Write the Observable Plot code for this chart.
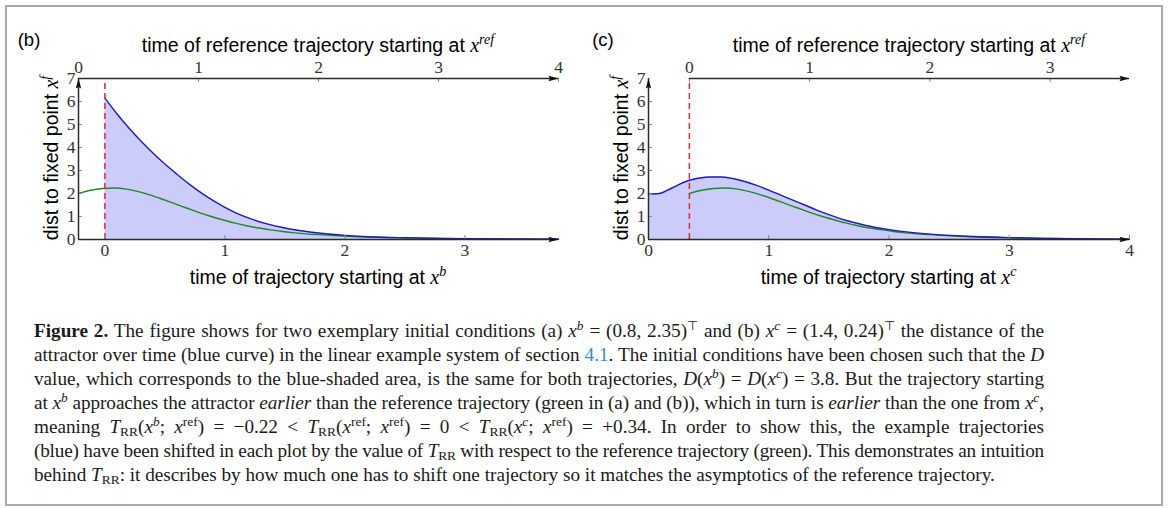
<!DOCTYPE html>
<html>
<head>
<meta charset="utf-8">
<script src="https://cdn.jsdelivr.net/npm/d3@7"></script>
<script src="https://cdn.jsdelivr.net/npm/@observablehq/plot@0.6"></script>
<style>
  html, body { margin: 0; padding: 0; background: #fff; }
  #fig { position: relative; width: 1168px; height: 508px; overflow: hidden; background: #fff; }
  #frame { position: absolute; left: 5px; top: 5px; width: 1158px; height: 501px; box-sizing: border-box; border: 2px solid #a9a9a9; pointer-events: none; }
  #pb { position: absolute; left: 0; top: 0; }
  #pc { position: absolute; left: 580px; top: 0; }
  #cap { position: absolute; left: 34px; top: 319px; width: 1010px; font-family: "Liberation Serif", "Times New Roman", serif; font-size: 19.2px; line-height: 24px; color: #1a1a1a; }
  #cap .j, #cap .l { height: 24px; overflow: visible; }
  #cap .j { text-align: justify; text-align-last: justify; white-space: nowrap; }
  #cap .l { text-align: left; white-space: nowrap; }
  #cap sup, #cap sub { font-size: 0.7em; vertical-align: baseline; position: relative; line-height: 0; }
  #cap sup { top: -0.5em; }
  #cap sub { top: 0.25em; }
  #cap .lnk { color: #2f8fce; }
</style>
</head>
<body>
<div id="fig">
  <div id="pb"></div>
  <div id="pc"></div>
  <div id="cap">
    <div class="j"><b>Figure 2.</b> The figure shows for two exemplary initial conditions (a) <i>x</i><sup><i>b</i></sup> = (0.8, 2.35)<sup>⊤</sup> and (b) <i>x</i><sup><i>c</i></sup> = (1.4, 0.24)<sup>⊤</sup> the distance of the</div>
    <div class="j">attractor over time (blue curve) in the linear example system of section <span class="lnk">4.1</span>. The initial conditions have been chosen such that the <i>D</i></div>
    <div class="j">value, which corresponds to the blue-shaded area, is the same for both trajectories, <i>D</i>(<i>x</i><sup><i>b</i></sup>) = <i>D</i>(<i>x</i><sup><i>c</i></sup>) = 3.8. But the trajectory starting</div>
    <div class="j">at <i>x</i><sup><i>b</i></sup> approaches the attractor <i>earlier</i> than the reference trajectory (green in (a) and (b)), which in turn is <i>earlier</i> than the one from <i>x</i><sup><i>c</i></sup>,</div>
    <div class="j">meaning <i>T</i><sub>RR</sub>(<i>x</i><sup><i>b</i></sup>; <i>x</i><sup>ref</sup>) = −0.22 &lt; <i>T</i><sub>RR</sub>(<i>x</i><sup>ref</sup>; <i>x</i><sup>ref</sup>) = 0 &lt; <i>T</i><sub>RR</sub>(<i>x</i><sup><i>c</i></sup>; <i>x</i><sup>ref</sup>) = +0.34. In order to show this, the example trajectories</div>
    <div class="j">(blue) have been shifted in each plot by the value of <i>T</i><sub>RR</sub> with respect to the reference trajectory (green). This demonstrates an intuition</div>
    <div class="l">behind <i>T</i><sub>RR</sub>: it describes by how much one has to shift one trajectory so it matches the asymptotics of the reference trajectory.</div>
  </div>
  <div id="frame"></div>
</div>
<script>
// ---------------- data ----------------
const T_RR_b = -0.22;   // shift of trajectory x^b relative to reference
const T_RR_c = 0.34;    // shift of trajectory x^c relative to reference
const yTicks = [0, 1, 2, 3, 4, 5, 6, 7];
const bBottomTicks = [0, 1, 2, 3];
const cBottomTicks = [0, 1, 2, 3, 4];
const bTopTicks = [0, 1, 2, 3, 4];
const cTopTicks = [0, 1, 2, 3];

// reference trajectory (green), time of reference trajectory
const refTime = [0, 0.1, 0.2, 0.3, 0.4, 0.5, 0.6, 0.7, 0.8, 0.9, 1.0, 1.1, 1.2, 1.3, 1.4, 1.5, 1.6, 1.7, 1.8, 2.0, 2.2, 2.4, 2.6, 2.8, 3.0, 3.3, 3.66, 4.0];
const refDist = [2.0, 2.14, 2.22, 2.24, 2.19, 2.08, 1.93, 1.75, 1.56, 1.37, 1.18, 1.01, 0.86, 0.72, 0.6, 0.5, 0.42, 0.35, 0.29, 0.21, 0.15, 0.11, 0.08, 0.058, 0.043, 0.028, 0.017, 0.01];

// trajectory from x^b (blue, panel b)
const bTime = [0, 0.1, 0.2, 0.3, 0.4, 0.5, 0.6, 0.7, 0.8, 0.9, 1.0, 1.1, 1.2, 1.35, 1.5, 1.65, 1.8, 2.0, 2.2, 2.5, 2.8, 3.1, 3.4, 3.78];
const bDist = [6.15, 5.47, 4.85, 4.28, 3.76, 3.28, 2.84, 2.42, 2.04, 1.7, 1.4, 1.14, 0.93, 0.68, 0.5, 0.37, 0.27, 0.18, 0.12, 0.075, 0.047, 0.03, 0.02, 0.012];

// trajectory from x^c (blue, panel c)
const cTime = [0, 0.05, 0.1, 0.2, 0.3, 0.4, 0.5, 0.6, 0.7, 0.8, 0.9, 1.0, 1.1, 1.2, 1.3, 1.4, 1.5, 1.6, 1.7, 1.8, 2.0, 2.2, 2.4, 2.7, 3.0, 3.3, 3.6, 4.0];
const cDist = [2.0, 1.98, 2.01, 2.25, 2.5, 2.65, 2.72, 2.72, 2.65, 2.52, 2.35, 2.15, 1.93, 1.71, 1.5, 1.28, 1.08, 0.9, 0.75, 0.62, 0.43, 0.3, 0.21, 0.13, 0.08, 0.05, 0.032, 0.018];

// ---------------- style ----------------
const FILL = "#ccccfa";
const BLUE = "#1c1cc0";
const GREEN = "#22862a";
const RED = "#e8262b";
const AX = "#2b2b2b";
const TICK = "#8a8a8a";

const arrowSym = {
  draw(ctx) {
    ctx.moveTo(0, 0);
    ctx.lineTo(2.7, 10);
    ctx.lineTo(0, 8.6);
    ctx.lineTo(-2.7, 10);
    ctx.closePath();
  }
};

function panel(cfg) {
  const {xmin, xmax, shift, redAt, blueT, blueV, bottomTicks, topTicks, width, marginLeft, marginRight} = cfg;
  const blue = blueT.map((t, i) => ({t, v: blueV[i]}));
  const ref = refTime.map((tau, i) => ({t: tau + shift, v: refDist[i]})).filter(d => d.t <= xmax + 1e-9);
  const topPos = topTicks.map(tau => tau + shift);
  const heads = [
    {x: xmax, y: 0, rot: 90},
    {x: xmax, y: 7, rot: 90},
    {x: xmin, y: 7, rot: 0}
  ];
  return Plot.plot({
    width, height: 300,
    marginLeft, marginRight, marginTop: 78, marginBottom: 61,
    x: {domain: [xmin, xmax]},
    y: {domain: [0, 7]},
    style: {fontFamily: "'Liberation Serif', serif", fontSize: "17.5px", color: "#333", background: "transparent", overflow: "visible"},
    marks: [
      Plot.areaY(blue, {x: "t", y: "v", fill: FILL, curve: "monotone-x"}),
      Plot.line(ref, {x: "t", y: "v", stroke: GREEN, strokeWidth: 1.4, curve: "monotone-x"}),
      Plot.line(blue, {x: "t", y: "v", stroke: BLUE, strokeWidth: 1.4, curve: "monotone-x"}),
      Plot.ruleX([redAt], {y1: 0, y2: 7, stroke: RED, strokeWidth: 1.5, strokeDasharray: "6,4"}),
      // inward ticks
      Plot.ruleX(bottomTicks, {x: d => d, y1: 0, y2: 0, insetTop: -4, stroke: TICK, strokeWidth: 1}),
      Plot.ruleX(topPos, {x: d => d, y1: 7, y2: 7, insetBottom: -4, stroke: TICK, strokeWidth: 1}),
      Plot.ruleY(yTicks.slice(1, 7), {y: d => d, x1: xmin, x2: xmin, insetRight: -4, stroke: TICK, strokeWidth: 1}),
      // axis lines
      Plot.ruleY([0], {x1: xmin, x2: xmax, stroke: AX, strokeWidth: 1.5}),
      Plot.ruleY([7], {x1: shift, x2: xmax, stroke: AX, strokeWidth: 1.5}),
      Plot.ruleX([xmin], {y1: 0, y2: 7, stroke: AX, strokeWidth: 1.5}),
      Plot.dot(heads, {x: "x", y: "y", rotate: "rot", symbol: arrowSym, fill: "#111", r: 5}),
      // tick labels
      Plot.axisX({anchor: "bottom", ticks: bottomTicks, tickSize: 0, tickPadding: 4, label: null, tickFormat: d => String(d)}),
      Plot.axisX({anchor: "top", ticks: topPos, tickSize: 0, tickPadding: 6, label: null, tickFormat: d => String(Math.round(d - shift))}),
      Plot.axisY({ticks: yTicks, tickSize: 0, tickPadding: 3, label: null, tickFormat: d => String(d)})
    ]
  });
}

function addLabels(svg, cfg) {
  const {letter, letterX, topCx, botCx, sup, yAxisX} = cfg;
  const s = d3.select(svg);
  const g = s.append("g")
    .attr("font-family", "'Liberation Sans', Arial, sans-serif")
    .attr("font-size", 19.5)
    .attr("fill", "#000");
  g.append("text").attr("x", letterX).attr("y", 46).attr("font-size", 18.5).text(letter);

  const mathX = (t, sz) => t.append("tspan").attr("font-family", "'Liberation Serif', serif").attr("font-style", "italic").attr("font-size", sz || 20).text("x");
  const mathSup = (t, txt) => t.append("tspan").attr("font-family", "'Liberation Serif', serif").attr("font-style", "italic").attr("font-size", 14).attr("dy", -8).text(txt);

  const top = g.append("text").attr("x", topCx).attr("y", 52).attr("text-anchor", "middle");
  top.append("tspan").text("time of reference trajectory starting at ");
  mathX(top); mathSup(top, "ref");

  const bot = g.append("text").attr("x", botCx).attr("y", 284).attr("text-anchor", "middle");
  bot.append("tspan").text("time of trajectory starting at ");
  mathX(bot); mathSup(bot, sup);

  const yl = g.append("text").attr("transform", `translate(${yAxisX - 20},158) rotate(-90)`).attr("text-anchor", "middle");
  yl.append("tspan").text("dist to fixed point ");
  mathX(yl); mathSup(yl, "f");
}

// panel (b)
const svgB = panel({
  xmin: T_RR_b, xmax: T_RR_b + 4, shift: T_RR_b, redAt: 0,
  blueT: bTime, blueV: bDist, bottomTicks: bBottomTicks, topTicks: bTopTicks,
  width: 580, marginLeft: 78, marginRight: 22
});
document.getElementById("pb").appendChild(svgB);
{
  const x = svgB.scale("x");
  addLabels(svgB, {letter: "(b)", letterX: 29, topCx: (x.apply(T_RR_b) + x.apply(T_RR_b + 4)) / 2,
    botCx: (x.apply(T_RR_b) + x.apply(T_RR_b + 4)) / 2, sup: "b", yAxisX: x.apply(T_RR_b)});
}

// panel (c)
const svgC = panel({
  xmin: 0, xmax: 4, shift: T_RR_c, redAt: T_RR_c,
  blueT: cTime, blueV: cDist, bottomTicks: cBottomTicks, topTicks: cTopTicks,
  width: 588, marginLeft: 68, marginRight: 39
});
document.getElementById("pc").appendChild(svgC);
{
  const x = svgC.scale("x");
  addLabels(svgC, {letter: "(c)", letterX: 23, topCx: (x.apply(T_RR_c) + x.apply(4)) / 2,
    botCx: (x.apply(0) + x.apply(4)) / 2, sup: "c", yAxisX: x.apply(0)});
}

// keep justified caption lines within the text block: tighten letter spacing first, then word spacing
document.querySelectorAll("#cap .j").forEach(el => {
  let ls = 0, ws = 0;
  while (el.scrollWidth > el.clientWidth + 0.5 && ls > -0.35) {
    ls -= 0.03;
    el.style.letterSpacing = ls + "px";
  }
  while (el.scrollWidth > el.clientWidth + 0.5 && ws > -5) {
    ws -= 0.25;
    el.style.wordSpacing = ws + "px";
  }
});
</script>
</body>
</html>
